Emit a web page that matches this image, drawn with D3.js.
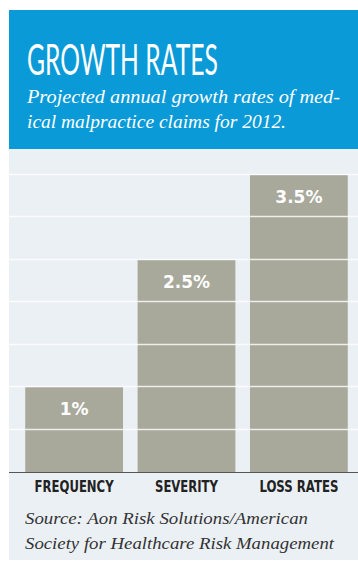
<!DOCTYPE html>
<html lang="en">
<head>
<meta charset="UTF-8">
<title>Growth Rates</title>
<script src="https://d3js.org/d3.v7.min.js"></script>
<style>
  body { margin: 0; background: #fff; }
  svg { display: block; }
</style>
</head>
<body>
<div id="chart"></div>
<script>
// data
var categories = ["FREQUENCY", "SEVERITY", "LOSS RATES"];
var values = [1, 2.5, 3.5];
var valueLabels = ["1%", "2.5%", "3.5%"];
var gridTicks = [0.5, 1, 1.5, 2, 2.5, 3, 3.5];
var title = "GROWTH RATES";
var subtitle = ["Projected annual growth rates of med-", "ical malpractice claims for 2012."];
var source = ["Source: Aon Risk Solutions/American", "Society for Healthcare Risk Management"];

var width = 358, height = 563;
var svg = d3.select("#chart").append("svg")
    .attr("width", width)
    .attr("height", height);

// panels
svg.append("rect").attr("x", 9).attr("y", 149).attr("width", 349).attr("height", 411).attr("fill", "#ebf0f5");
svg.append("rect").attr("x", 9).attr("y", 10).attr("width", 349).attr("height", 139).attr("fill", "#0a9ad8");

svg.append("text")
    .attr("x", 27).attr("y", 75)
    .attr("fill", "#fff")
    .style("font-family", "Lato, 'Open Sans', sans-serif")
    .style("font-weight", "400")
    .style("font-size", "42px")
    .attr("textLength", 191)
    .attr("lengthAdjust", "spacingAndGlyphs")
    .text(title);

svg.selectAll(".sub").data(subtitle).enter().append("text")
    .attr("x", 27).attr("y", function(d, i) { return 103 + i * 25; })
    .attr("fill", "#fff")
    .style("font-family", "'Liberation Serif', serif")
    .style("font-style", "italic")
    .style("font-size", "19px")
    .attr("textLength", function(d, i) { return i ? 259 : 313; })
    .attr("lengthAdjust", "spacingAndGlyphs")
    .text(function(d) { return d; });

// scales
var x = d3.scaleBand().domain(categories).range([14, 359]).paddingInner(0.13).paddingOuter(0.1);
var y = d3.scaleLinear().domain([0, 3.5]).range([472, 175]);

// bars
svg.selectAll(".bar").data(values).enter().append("rect")
    .attr("x", function(d, i) { return x(categories[i]); })
    .attr("width", x.bandwidth())
    .attr("y", function(d) { return y(d); })
    .attr("height", function(d) { return y(0) - y(d); })
    .attr("fill", "#a8a89b");

// gridlines
svg.selectAll(".grid").data(gridTicks).enter().append("line")
    .attr("x1", 9).attr("x2", 358)
    .attr("y1", function(d) { return Math.round(y(d)) - 0.5; })
    .attr("y2", function(d) { return Math.round(y(d)) - 0.5; })
    .attr("stroke", "#fff")
    .attr("stroke-opacity", 0.8)
    .attr("stroke-width", 1.5);

// baseline
svg.append("line").attr("x1", 9).attr("x2", 358).attr("y1", y(0) + 0.5).attr("y2", y(0) + 0.5)
    .attr("stroke", "#555").attr("stroke-width", 1.2);

// value labels
svg.selectAll(".val").data(values).enter().append("text")
    .attr("x", function(d, i) { return x(categories[i]) + x.bandwidth() / 2; })
    .attr("y", function(d) { return y(d) + 28; })
    .attr("text-anchor", "middle")
    .attr("fill", "#fff")
    .style("font-family", "'DejaVu Sans', sans-serif")
    .style("font-weight", "bold")
    .style("font-size", "17px")
    .text(function(d, i) { return valueLabels[i]; });

// category labels
var catWidths = [79, 63, 79];
svg.selectAll(".cat").data(categories).enter().append("text")
    .attr("x", function(d) { return x(d) + x.bandwidth() / 2; })
    .attr("y", 492)
    .attr("text-anchor", "middle")
    .attr("fill", "#222")
    .style("font-family", "'DejaVu Sans Condensed', 'DejaVu Sans', sans-serif")
    .style("font-weight", "bold")
    .style("font-size", "15px")
    .attr("textLength", function(d, i) { return catWidths[i]; })
    .attr("lengthAdjust", "spacingAndGlyphs")
    .text(function(d) { return d; });

// source
svg.selectAll(".src").data(source).enter().append("text")
    .attr("x", 25).attr("y", function(d, i) { return 524 + i * 25; })
    .attr("fill", "#333")
    .style("font-family", "'Liberation Serif', serif")
    .style("font-style", "italic")
    .style("font-size", "17px")
    .attr("textLength", function(d, i) { return i ? 309 : 283; })
    .attr("lengthAdjust", "spacingAndGlyphs")
    .text(function(d) { return d; });
</script>
</body>
</html>
